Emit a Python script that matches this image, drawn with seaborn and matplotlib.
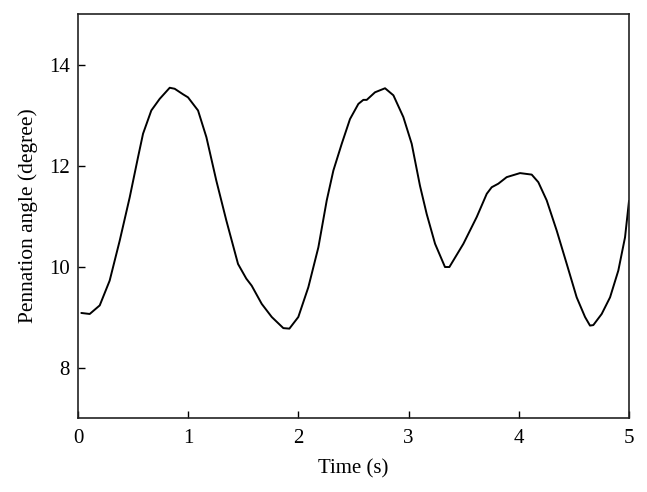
import matplotlib
matplotlib.use("Agg")
import matplotlib.pyplot as plt
import seaborn as sns
import pandas as pd

time_s = [0.030, 0.106, 0.197, 0.287, 0.378, 0.469, 0.544, 0.590, 0.665, 0.741,
          0.832, 0.877, 0.953, 0.998, 1.089, 1.165, 1.255, 1.346, 1.452, 1.527,
          1.576, 1.667, 1.758, 1.863, 1.918, 1.999, 2.090, 2.181, 2.257, 2.317,
          2.393, 2.468, 2.544, 2.589, 2.620, 2.695, 2.786, 2.862, 2.952, 3.028,
          3.103, 3.164, 3.240, 3.330, 3.370, 3.497, 3.618, 3.709, 3.754, 3.814,
          3.890, 4.011, 4.117, 4.177, 4.253, 4.344, 4.435, 4.525, 4.601, 4.646,
          4.676, 4.752, 4.828, 4.903, 4.964, 5.000]
angle_deg = [9.08, 9.06, 9.23, 9.72, 10.51, 11.37, 12.16, 12.63, 13.09, 13.32,
             13.54, 13.52, 13.41, 13.35, 13.09, 12.56, 11.70, 10.91, 10.05, 9.76,
             9.62, 9.26, 9.00, 8.78, 8.77, 9.00, 9.59, 10.38, 11.31, 11.90,
             12.43, 12.92, 13.22, 13.30, 13.30, 13.45, 13.53, 13.39, 12.96, 12.43,
             11.60, 11.04, 10.45, 9.99, 9.99, 10.45, 10.98, 11.44, 11.57, 11.64,
             11.77, 11.85, 11.82, 11.67, 11.31, 10.71, 10.05, 9.39, 9.00, 8.83,
             8.84, 9.06, 9.39, 9.92, 10.58, 11.30]
x_ticks = [0, 1, 2, 3, 4, 5]
y_ticks = [8, 10, 12, 14]

df = pd.DataFrame({"Time (s)": time_s, "Pennation angle (degree)": angle_deg})

sns.set_theme(style="ticks")
plt.rcParams["font.family"] = ["Liberation Serif", "DejaVu Serif"]

fig = plt.figure(figsize=(6.47, 4.92), dpi=100)
ax = fig.add_axes([0.1206, 0.1504, 0.8516, 0.8211])
sns.lineplot(data=df, x="Time (s)", y="Pennation angle (degree)", ax=ax,
             color="black", linewidth=1.4)
ax.lines[0].set_solid_joinstyle("round")
ax.set_xlim(0, 5)
ax.set_ylim(7, 15)
ax.set_xticks(x_ticks)
ax.set_yticks(y_ticks)
ax.tick_params(axis="both", direction="in", length=5, width=1, labelsize=15,
               colors="black")
ax.tick_params(axis="x", pad=8)
ax.tick_params(axis="y", pad=6)
for s in ax.spines.values():
    s.set_visible(True)
    s.set_color("#222222")
    s.set_linewidth(1.2)
ax.set_xlabel("Time (s)", fontsize=15, color="black", labelpad=8)
ax.set_ylabel("Pennation angle (degree)", fontsize=15.5, color="black", labelpad=8)
fig.savefig("out.png", dpi=100)
